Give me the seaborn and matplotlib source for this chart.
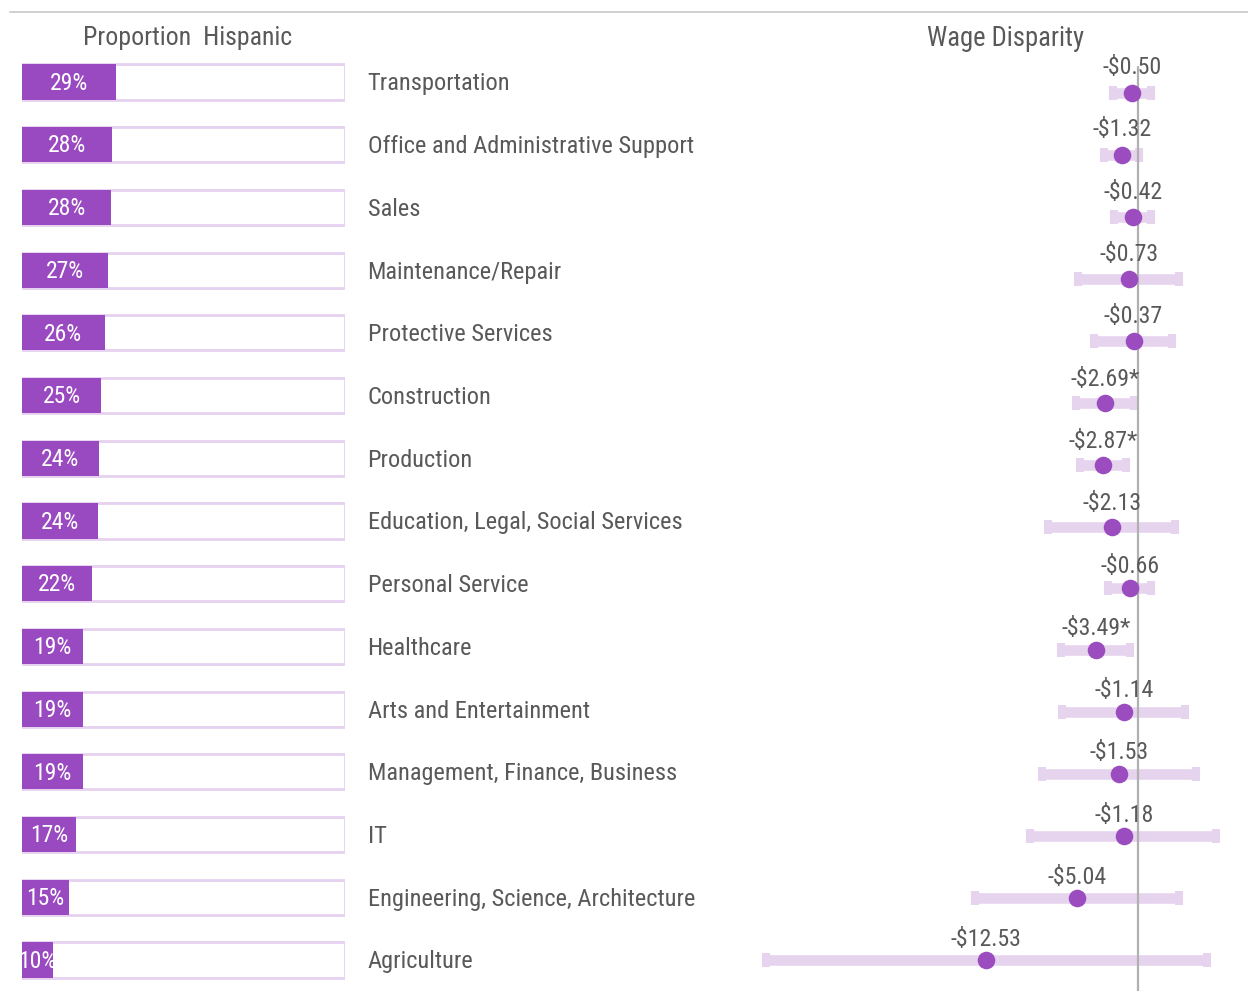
import numpy as np
import pandas as pd
import matplotlib
matplotlib.use("Agg")
import matplotlib.pyplot as plt
from matplotlib.lines import Line2D
import seaborn as sns

sns.set_theme(style="white")
plt.rcParams['font.family'] = ['Roboto Condensed', 'DejaVu Sans']

# data
occupations = ["Transportation", "Office and Administrative Support", "Sales",
               "Maintenance/Repair", "Protective Services", "Construction",
               "Production", "Education, Legal, Social Services", "Personal Service",
               "Healthcare", "Arts and Entertainment", "Management, Finance, Business",
               "IT", "Engineering, Science, Architecture", "Agriculture"]
pct_hispanic = [29.1, 27.9, 27.6, 26.6, 25.6, 24.6, 23.8, 23.5, 21.6, 18.9, 18.9, 18.8, 16.8, 14.6, 9.6]
wage_gap = [-0.50, -1.32, -0.42, -0.73, -0.37, -2.69, -2.87, -2.13, -0.66, -3.49,
            -1.14, -1.53, -1.18, -5.04, -12.53]
significant = [False, False, False, False, False, True, True, False, False, True,
               False, False, False, False, False]
ci_low = [-2.40, -3.15, -2.30, -5.30, -3.95, -5.45, -5.10, -7.75, -2.80, -6.70,
          -6.60, -8.25, -9.25, -13.75, -31.00]
ci_high = [1.40, 0.40, 1.40, 3.70, 3.15, 0.00, -0.65, 3.40, 1.40, -0.35,
           4.20, 5.10, 6.75, 3.70, 6.00]

df = pd.DataFrame({"occupation": occupations, "pct": pct_hispanic, "total": 100,
                   "gap": wage_gap, "lo": ci_low, "hi": ci_high, "sig": significant})
df["row"] = np.arange(len(df))

purple = "#9a4ac0"
lavender = "#e6d3ee"
grey_txt = "#595959"
W, H = 1248, 998

fig = plt.figure(figsize=(W / 100, H / 100), dpi=100)
fig.patch.set_facecolor("white")

# left panel: proportion hispanic
axl = fig.add_axes([22 / W, 1 - 991.4 / H, 323 / W, (991.4 - 50.6) / H])
axl.patch.set_visible(False)
sns.barplot(data=df, x="total", y="occupation", orient="h", color="white",
            edgecolor="#e6d2f0", linewidth=2.0, width=0.56, saturation=1, ax=axl)
sns.barplot(data=df, x="pct", y="occupation", orient="h", color=purple,
            linewidth=0, width=0.56, saturation=1, ax=axl)
axl.set_xlim(0, 100)
axl.set_ylim(14.5, -0.5)
for r in df.itertuples():
    axl.text(r.pct / 2, r.row + 0.02, f"{round(r.pct)}%", color="white", fontsize=17,
             ha="center", va="center", clip_on=False)
    axl.text(107.0, r.row + 0.03, r.occupation, color=grey_txt, fontsize=17.6,
             ha="left", va="center", clip_on=False)
axl.set_xticks([])
axl.set_yticks([])
axl.set_xlabel("")
axl.set_ylabel("")
sns.despine(ax=axl, left=True, bottom=True)

# right panel: wage disparity
axr = fig.add_axes([740 / W, 1 - 991 / H, 508 / W, (991 - 62) / H])
axr.patch.set_visible(False)
axr.errorbar(df["gap"], df["row"],
             xerr=[df["gap"] - (df["lo"] + 0.35), (df["hi"] - 0.35) - df["gap"]],
             fmt="none", ecolor=lavender, elinewidth=7.6, capsize=4.8, capthick=5.8,
             zorder=1)
axr.axvline(0, color="#b0b0b0", lw=1.6, ymin=0, ymax=0.995, zorder=2)
sns.scatterplot(data=df, x="gap", y="row", color="#9b4dbf", s=160, linewidth=0,
                zorder=3, ax=axr)
for r in df.itertuples():
    lab = f"-${abs(r.gap):.2f}" + ("*" if r.sig else "")
    axr.text(r.gap, r.row - 0.41 + 0.006 * r.row, lab, color=grey_txt, fontsize=17.2,
             ha="center", va="center")
axr.set_xlim((740 - 1138) / 12.13, (1248 - 1138) / 12.13)
axr.set_ylim(14.5, -0.5)
axr.set_xticks([])
axr.set_yticks([])
axr.set_xlabel("")
axr.set_ylabel("")
sns.despine(ax=axr, left=True, bottom=True)

# headers and top rule
fig.add_artist(Line2D([10 / W, 1], [1 - 12 / H, 1 - 12 / H], color="#c8c8c8", lw=1.2))
fig.text(188 / W, 1 - 38.5 / H, "Proportion  Hispanic", color=grey_txt, fontsize=18.6,
         ha="center", va="center")
fig.text(1006 / W, 1 - 38.5 / H, "Wage Disparity", color=grey_txt, fontsize=19.2,
         ha="center", va="center")

fig.savefig("out.png", dpi=100, facecolor="white")
